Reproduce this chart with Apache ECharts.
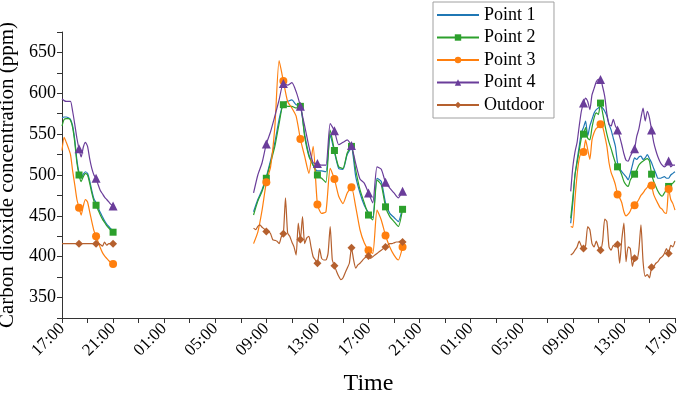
<!DOCTYPE html>
<html>
<head>
    <meta charset="utf-8"/>
    <title>CO2 concentration</title>
    <script src="https://cdn.jsdelivr.net/npm/echarts@6/dist/echarts.min.js"></script>
</head>
<body style="margin:0">
<div id="chart" style="width: 688px; height: 395px;"></div>
<script>
    // time in minutes after 17:00 on day 1; segment starts and steps
    var segStart = [0, 900, 2390];
    var markTimes = [80, 160, 240, 960, 1040, 1120, 1200, 1280, 1360, 1440, 1520, 1600,
        2450, 2530, 2610, 2690, 2770, 2850];

    // segment 1: 17:00-21:00, 10 min
    var p1_s1 = [570, 571, 571, 570, 568, 560, 543, 518, 503, 496, 501, 504, 502, 493, 481, 471, 466, 460, 454, 449, 444, 440, 437, 434, 432];
    var p2_s1 = [560, 568, 569, 569, 567, 558, 540, 515, 500, 492, 498, 502, 500, 490, 478, 468, 463, 457, 451, 446, 442, 438, 435, 432, 430];
    var p3_s1 = [530, 546, 540, 533, 525, 505, 488, 470, 460, 451, 462, 470, 467, 455, 443, 432, 425, 418, 411, 405, 401, 398, 395, 393, 391];
    var p4_s1 = [593, 591, 590, 590, 590, 578, 562, 545, 532, 522, 534, 540, 535, 520, 508, 500, 496, 488, 481, 477, 473, 470, 467, 464, 462];
    var out_s1 = [416, 416, 416, 416, 416, 416, 416, 416, 416, 416, 416, 416, 416, 416, 416, 416, 416, 416, 415, 413, 418, 414, 416, 416, 416];

    // segment 2: 08:00-19:40 (day 2), 20 min for points, 10 min for outdoor
    var p1_s2 = [455, 470, 482, 498, 518, 540, 568, 588, 590, 592, 586, 585, 550, 525, 512, 505, 505, 504,
        549, 528, 508, 507, 525, 533, 498, 478, 463, 454, 448, 496, 492, 466, 453, 448, 443, 461];
    var p2_s2 = [451, 468, 480, 496, 515, 535, 563, 586, 584, 584, 582, 584, 547, 523, 512, 500, 496, 491,
        555, 530, 510, 508, 527, 535, 506, 482, 466, 451, 445, 494, 488, 461, 449, 443, 437, 458];
    var p3_s2 = [416, 430, 457, 491, 510, 559, 640, 615, 590, 582, 572, 544, 523, 502, 535, 464, 453, 455,
        508, 495, 474, 465, 478, 485, 461, 433, 417, 408, 404, 457, 445, 426, 412, 402, 396, 412];
    var p4_s2 = [478, 500, 515, 538, 553, 572, 592, 612, 610, 613, 602, 584, 560, 535, 515, 514, 512, 512,
        563, 554, 537, 540, 543, 536, 514, 495, 490, 478, 466, 510, 507, 491, 484, 478, 472, 480];
    var out_s2 = [435, 433, 437, 439, 436, 434, 431, 431, 428, 421, 420, 419, 416, 424, 428, 472, 429, 425,
        418, 412, 402, 441, 421, 449, 416, 423, 425, 412, 400, 396, 392, 410, 398, 396, 396, 404,
        437, 396, 389, 382, 376, 372, 374, 380, 386, 392, 411, 396, 386, 390, 392, 395, 398, 400,
        401, 398, 400, 402, 404, 406, 408, 410, 412, 414, 416, 416, 417, 418, 418, 419, 418];

    // segment 3: 08:50-17:00 (day 3), 10 min
    var p1_s3 = [441, 466, 500, 518, 535, 552, 558, 566, 548, 560, 568, 576, 580, 582, 584, 582, 578, 572, 562, 555,
        545, 535, 515, 508, 504, 501, 498, 494, 502, 512, 521, 519, 522, 523, 519, 521, 525, 520, 515, 508,
        502, 496, 496, 497, 498, 496, 496, 500, 502, 504];
    var p2_s3 = [447, 472, 500, 515, 530, 545, 550, 558, 545, 543, 558, 570, 576, 574, 588, 576, 562, 550, 540, 532,
        523, 515, 510, 506, 500, 492, 488, 486, 494, 498, 501, 506, 512, 515, 517, 519, 520, 517, 501, 492,
        486, 480, 476, 474, 478, 482, 486, 488, 490, 493];
    var p3_s3 = [437, 436, 470, 500, 520, 527, 528, 543, 531, 519, 543, 552, 557, 559, 562, 559, 548, 535, 515, 503,
        496, 488, 476, 472, 466, 455, 450, 452, 456, 462, 463, 466, 470, 475, 478, 482, 485, 490, 487, 476,
        470, 465, 460, 458, 454, 453, 483, 470, 465, 457];
    var p4_s3 = [480, 510, 528, 540, 560, 578, 588, 594, 590, 580, 598, 606, 614, 617, 617, 608, 596, 575, 562, 560,
        568, 560, 555, 547, 537, 526, 518, 517, 523, 528, 532, 547, 556, 570, 582, 566, 578, 570, 555, 540,
        530, 522, 516, 512, 510, 512, 517, 510, 512, 512];
    var out_s3 = [402, 404, 408, 412, 419, 413, 410, 414, 437, 433, 416, 412, 419, 412, 408, 419, 446, 443, 412, 408,
        414, 412, 415, 392, 421, 441, 394, 412, 410, 388, 398, 396, 408, 439, 394, 376, 378, 374, 387, 388,
        392, 394, 398, 400, 404, 410, 404, 414, 412, 419];

    function build(segs) {
        var data = [];
        segs.forEach(function (s, si) {
            if (si > 0) data.push([(s.start - 30) / 60, '-']);
            s.vals.forEach(function (v, i) {
                var t = s.start + i * s.step;
                var item = {value: [t / 60, v]};
                if (markTimes.indexOf(t) < 0) item.symbol = 'none';
                data.push(item);
            });
        });
        return data;
    }

    function segs(a, b, c, step2) {
        return [
            {start: segStart[0], step: 10, vals: a},
            {start: segStart[1], step: step2, vals: b},
            {start: segStart[2], step: 10, vals: c}
        ];
    }

    var font = 'Liberation Serif';
    function pad(n) { return (n < 10 ? '0' : '') + n; }

    function lineSeries(name, color, symbol, size, data) {
        return {
            name: name,
            type: 'line',
            data: data,
            symbol: symbol,
            symbolSize: size,
            smooth: 0.2,
            lineStyle: {width: 1.2, color: color},
            itemStyle: {color: color},
            emphasis: {disabled: true}
        };
    }

    var chart = echarts.init(document.getElementById('chart'));
    chart.setOption({
        animation: false,
        grid: {left: 62, right: 13, top: 32, bottom: 77, containLabel: false, outerBoundsMode: 'none'},
        legend: {
            orient: 'vertical',
            left: 433,
            top: 2,
            padding: [3, 10, 3, 3],
            itemWidth: 42,
            itemHeight: 8,
            itemGap: 2.5,
            borderColor: '#a0a0a0',
            borderWidth: 1,
            backgroundColor: '#fff',
            textStyle: {fontFamily: font, fontSize: 18, color: '#000', lineHeight: 20},
            data: [{name: 'Point 1', itemStyle: {color: 'rgba(0,0,0,0)', borderWidth: 0}},
                'Point 2', 'Point 3', 'Point 4', 'Outdoor']
        },
        xAxis: {
            type: 'value',
            min: 0,
            max: 48,
            interval: 2,
            name: 'Time',
            nameLocation: 'middle',
            nameGap: 54,
            nameTextStyle: {fontFamily: font, fontSize: 24, color: '#000'},
            axisLine: {lineStyle: {color: '#333'}},
            axisTick: {length: 5, lineStyle: {color: '#333'}},
            splitLine: {show: false},
            axisLabel: {
                rotate: 45,
                margin: 8,
                fontFamily: font,
                fontSize: 17,
                color: '#000',
                formatter: function (v) {
                    return v % 4 === 0 ? pad((17 + v) % 24) + ':00' : '';
                }
            }
        },
        yAxis: {
            type: 'value',
            min: 325,
            max: 675,
            interval: 25,
            name: 'Carbon dioxide concentration (ppm)',
            nameLocation: 'middle',
            nameGap: 41,
            nameTextStyle: {fontFamily: font, fontSize: 21, color: '#000'},
            axisLine: {show: true, lineStyle: {color: '#333'}},
            axisTick: {show: true, length: 5, lineStyle: {color: '#333'}},
            splitLine: {show: false},
            axisLabel: {
                margin: 6,
                fontFamily: font,
                fontSize: 18,
                color: '#000',
                formatter: function (v) { return v % 50 === 0 ? v : ''; }
            }
        },
        series: [
            lineSeries('Point 1', '#1f77b4', 'none', 0, build(segs(p1_s1, p1_s2, p1_s3, 20))),
            lineSeries('Point 2', '#2ca02c', 'rect', 7, build(segs(p2_s1, p2_s2, p2_s3, 20))),
            lineSeries('Point 3', '#ff7f0e', 'circle', 8, build(segs(p3_s1, p3_s2, p3_s3, 20))),
            lineSeries('Point 4', '#6a3d9a', 'triangle', 9, build(segs(p4_s1, p4_s2, p4_s3, 20))),
            lineSeries('Outdoor', '#b5602e', 'diamond', 8, build(segs(out_s1, out_s2, out_s3, 10)))
        ]
    });
</script>
</body>
</html>
